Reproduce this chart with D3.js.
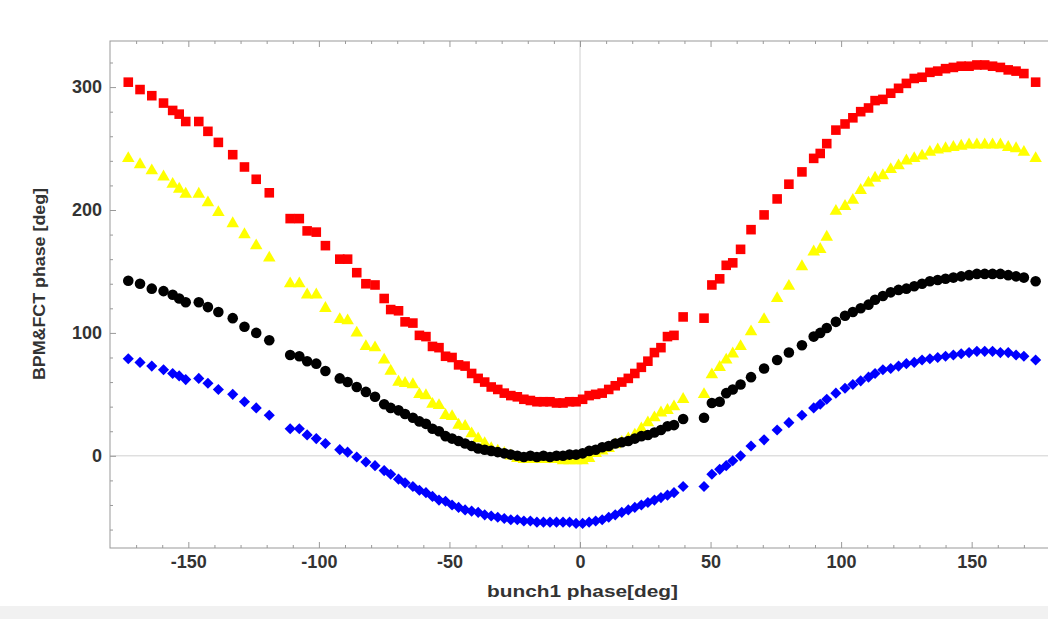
<!DOCTYPE html>
<html>
<head>
<meta charset="utf-8">
<script src="https://cdn.jsdelivr.net/npm/d3@7"></script>
<style>
  body { margin: 0; background: #fff; }
  .tick text { font-family: "Liberation Sans", Arial, sans-serif; font-weight: bold; font-size: 18px; fill: #333; }
  .tick line { stroke: #999; }
  .domain { stroke: none; }
  .label { font-family: "Liberation Sans", Arial, sans-serif; font-weight: bold; font-size: 16px; fill: #333; }
</style>
</head>
<body>
<div id="viz"></div>
<script>
// bunch1 phase [deg], shared by all four series
const phase = [
  -173, -168.5, -164, -159.5, -156, -153.5, -151, -146, -142.5, -138.5, -133, -128.5, -124, -119,
  -111, -107.5, -104.5, -101, -97.5, -92, -89, -85.5, -82, -78.5, -75, -72.5, -69.5, -67, -64,
  -61.5, -59, -56.5, -54, -51.5, -49, -46.5, -44, -41.5, -39, -36.5, -34, -31.5, -29, -26.5,
  -24, -21.5, -19, -16.5, -14, -11.5, -9, -6.5, -4, -1.5, 1, 3.5, 6, 8.5, 11, 13.5, 16, 18.5,
  21, 23.5, 26, 28.5, 31, 33.5, 36, 39.5,
  47.5, 50.5, 53.5, 56, 58.5, 61.5, 65.5, 70.5, 75.5, 80, 85, 89.5, 92, 94.5, 98, 101.5, 104.5,
  107.5, 110.5, 113, 116, 119, 122, 125, 128, 131, 134, 137, 140, 143, 146, 149, 152, 155, 158,
  161, 164, 167, 170, 174.5
];

const redVals = [
  304, 298, 293, 287, 281, 278, 272, 272, 264, 255, 245, 235, 225, 214,
  193, 193, 183, 182, 171, 160, 160, 149, 140, 139, 128, 119, 118, 109, 108,
  98, 97, 89, 88, 81, 80, 74, 73, 67, 63, 60, 56, 54, 51, 49,
  48, 46, 45, 44, 44, 44, 43, 43, 44, 44, 46, 49, 50, 51, 54, 57, 60, 63,
  67, 72, 77, 84, 88, 97, 98, 113,
  112, 139, 144, 155, 157, 168, 184, 196, 209, 221, 231, 242, 246, 254, 265, 270, 275,
  280, 283, 289, 290, 295, 299, 303, 307, 308, 312, 313, 315, 316, 317, 317, 318, 318, 317,
  316, 314, 313, 311, 304
];

const yellowVals = [
  242, 237, 232, 227, 221, 217, 213, 213, 206, 198, 189, 180, 171, 161,
  140, 140, 131, 131, 120, 111, 110, 100, 89, 88, 78, 69, 60, 59, 58,
  50, 49, 42, 41, 33, 32, 25, 24, 18, 14, 10, 6, 4, 2, 0,
  -2, -3, -3, -3, -3, -3, -3, -4, -4, -4, -4, -2, 2, 4, 6, 9, 11, 14,
  17, 22, 27, 31, 35, 37, 40, 46,
  50, 66, 72, 78, 83, 89, 101, 111, 128, 138, 154, 166, 168, 178, 199, 203, 208,
  216, 222, 226, 228, 233, 236, 240, 242, 244, 247, 249, 250, 251, 252, 253, 253, 253, 253,
  253, 251, 250, 247, 242
];

const blackVals = [
  142.5, 140, 136, 134, 131, 128, 125, 125, 121, 117, 112, 105, 100, 94,
  82, 81, 77, 75, 69, 63, 60, 56, 52, 48, 42, 39, 37, 34, 31,
  28, 26, 22, 20, 16, 14, 12, 10, 8, 6, 5, 4, 3, 2, 1,
  0, -1, 0, -1, 0, -1, 0, 0, 1, 1, 2, 4, 5, 7, 8, 10, 11, 12,
  14, 16, 17, 19, 21, 24, 25, 30,
  31, 43, 44, 51, 54, 58, 64, 71, 78, 84, 90, 97, 100, 104, 109, 114, 117,
  120, 123, 127, 130, 133, 135, 136, 138, 140, 142, 143, 144, 145, 146, 147, 148, 148, 148,
  148, 147, 146, 145, 142
];

const blueVals = [
  79, 76, 73, 70, 67, 65, 62, 63, 59, 54, 50, 44, 39, 33,
  22, 22, 17, 14, 10, 5, 3, -1, -5, -8, -12, -15, -19, -22, -25,
  -28, -30, -33, -36, -37, -40, -42, -44, -45, -46, -48, -49, -50, -51, -52,
  -52, -53, -53, -54, -54, -54, -54, -54, -54, -55, -55, -54, -53, -52, -50, -48, -46, -44,
  -42, -40, -38, -36, -34, -32, -30, -25,
  -25, -15, -11, -8, -4, 0, 8, 13, 21, 27, 33, 39, 42, 46, 51, 55, 58,
  61, 64, 67, 70, 71, 73, 75, 76, 78, 79, 80, 81, 82, 83, 84, 85, 85, 85,
  84, 84, 82, 81, 78
];

const xMajor = [-150, -100, -50, 0, 50, 100, 150];
const yMajor = [0, 100, 200, 300];

// blue diamonds are squares turned by 45 degrees
const series = [
  { name: "red", values: redVals, color: "#ff0000", symbol: d3.symbolSquare, size: 92, rot: 0 },
  { name: "yellow", values: yellowVals, color: "#ffff00", symbol: d3.symbolTriangle, size: 68, rot: 0 },
  { name: "black", values: blackVals, color: "#000000", symbol: d3.symbolCircle, size: 88, rot: 0 },
  { name: "blue", values: blueVals, color: "#0000ff", symbol: d3.symbolSquare, size: 62, rot: 45 }
];

const W = 1048, H = 619;
const margin = {top: 41, right: -2, bottom: 71, left: 110},
    width = W - margin.left - margin.right,
    height = H - margin.top - margin.bottom;

const svg = d3.select("#viz")
    .append("svg")
        .attr("width", W)
        .attr("height", H);

// faint grey strip at the very bottom of the screenshot
svg.append("rect")
    .attr("x", 0).attr("y", 606)
    .attr("width", W).attr("height", H - 606)
    .attr("fill", "#f1f1f1");

const g = svg.append("g")
    .attr("transform", `translate(${margin.left},${margin.top})`);

const x = d3.scaleLinear().domain([-180, 180]).range([0, width]);
const y = d3.scaleLinear().domain([-75, 337.5]).range([height, 0]);

// axes lines through origin
g.append("line")
    .attr("x1", x(0)).attr("x2", x(0))
    .attr("y1", 0).attr("y2", height)
    .attr("stroke", "#d0d0d0");
g.append("line")
    .attr("x1", 0).attr("x2", width)
    .attr("y1", y(0)).attr("y2", y(0))
    .attr("stroke", "#d0d0d0");

// minor ticks
const xMinor = d3.range(-170, 180, 10).filter(v => v % 50 !== 0);
const yMinor = d3.range(-60, 340, 20).filter(v => v % 100 !== 0);

g.append("g")
    .attr("transform", `translate(0,${height})`)
    .call(d3.axisBottom(x).tickValues(xMinor).tickSize(-3).tickFormat(""));
g.append("g")
    .call(d3.axisTop(x).tickValues(xMinor).tickSize(-3).tickFormat(""));
g.append("g")
    .call(d3.axisLeft(y).tickValues(yMinor).tickSize(-3).tickFormat(""));

// major ticks + labels
g.append("g")
    .attr("transform", `translate(0,${height})`)
    .call(d3.axisBottom(x).tickValues(xMajor).tickSize(-6).tickPadding(7)
        .tickFormat(d => d));
g.append("g")
    .call(d3.axisTop(x).tickValues(xMajor).tickSize(-6).tickFormat(""));
g.append("g")
    .call(d3.axisLeft(y).tickValues(yMajor).tickSize(-6).tickPadding(8));

// frame
g.append("rect")
    .attr("width", width)
    .attr("height", height)
    .attr("fill", "none")
    .attr("stroke", "#999");

// points
series.forEach(s => {
    const sym = d3.symbol().type(s.symbol).size(s.size);
    g.append("g")
        .attr("class", "series-" + s.name)
        .selectAll("path")
        .data(phase.map((p, i) => ({ p: p, v: s.values[i] })))
        .join("path")
            .attr("transform", d => `translate(${x(d.p)},${y(d.v)}) rotate(${s.rot})`)
            .attr("d", sym)
            .attr("fill", s.color);
});

// axis titles (the original font is wider than Arial, so stretch them)
svg.append("text")
    .attr("class", "label")
    .attr("x", 487)
    .attr("y", 597)
    .attr("textLength", 191)
    .attr("lengthAdjust", "spacingAndGlyphs")
    .text("bunch1 phase[deg]");

svg.append("text")
    .attr("class", "label")
    .attr("transform", "translate(45,380) rotate(-90)")
    .attr("textLength", 192)
    .attr("lengthAdjust", "spacingAndGlyphs")
    .text("BPM&FCT phase [deg]");
</script>
</body>
</html>
